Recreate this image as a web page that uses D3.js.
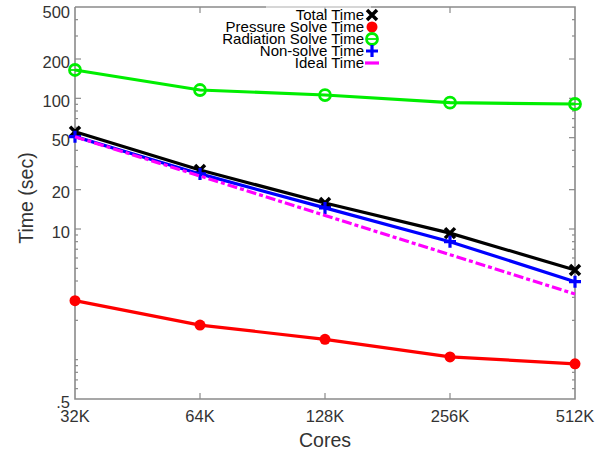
<!DOCTYPE html>
<html><head><meta charset="utf-8">
<script src="https://cdn.jsdelivr.net/npm/d3@7"></script>
<style>body{margin:0;background:#fff}svg{display:block}</style>
</head><body><svg id="c" width="606" height="455"></svg>
<script>
const cores = ["32K","64K","128K","256K","512K"];
const coreCounts = [32,64,128,256,512];
const totalTime = [55.5,28.3,15.8,9.3,4.86];
const pressureTime = [2.83,1.84,1.43,1.05,0.93];
const radiationTime = [164.8,115.8,106,92.6,90.5];
const nonSolveTime = [50.9,26.4,14.5,8.0,3.95];
const idealTime = [50.9,25.45,12.7,6.36,3.18];
const yTickValues = [0.5,10,20,50,100,200,500];
const yTickLabels = [".5","10","20","50","100","200","500"];
const seriesNames = ["Total Time","Pressure Solve Time","Radiation Solve Time","Non-solve Time","Ideal Time"];

const svg = d3.select("#c");
const L=75,R=575,T=7,B=399;
const x = d3.scaleLog().base(2).domain([32,512]).range([L,R]);
const y = d3.scaleLog().domain([0.5,500]).range([B,T]);
const axisCol="#8a8a8a", txtCol="#333";

// minor ticks
const minors=[];
[0.1,1,10,100].forEach(d=>{for(let k=1;k<10;k++){const v=d*k; if(v>0.5&&v<500) minors.push(v);}});
const g=svg.append("g");
minors.forEach(v=>{
  const isMajor=yTickValues.includes(v);
  const len=isMajor?6:3;
  g.append("line").attr("x1",L).attr("x2",L+len).attr("y1",y(v)).attr("y2",y(v)).attr("stroke",axisCol).attr("stroke-width",1.2);
  g.append("line").attr("x1",R).attr("x2",R-len).attr("y1",y(v)).attr("y2",y(v)).attr("stroke",axisCol).attr("stroke-width",1.2);
});
coreCounts.slice(1,4).forEach(c=>{
  g.append("line").attr("x1",x(c)).attr("x2",x(c)).attr("y1",B).attr("y2",B-6).attr("stroke",axisCol).attr("stroke-width",1.2);
  g.append("line").attr("x1",x(c)).attr("x2",x(c)).attr("y1",T).attr("y2",T+6).attr("stroke",axisCol).attr("stroke-width",1.2);
});
// frame
g.append("path").attr("d",`M${L},${T}V${B}H${R}V${T}H371`).attr("fill","none").attr("stroke",axisCol).attr("stroke-width",1.6);
g.append("line").attr("x1",L).attr("x2",266).attr("y1",T).attr("y2",T).attr("stroke",axisCol).attr("stroke-width",1.6);
g.append("line").attr("x1",266).attr("x2",371).attr("y1",T).attr("y2",T).attr("stroke","#c8c8c8").attr("stroke-width",1.6);

// y labels
yTickValues.forEach((v,i)=>{
  svg.append("text").attr("x",70).attr("y",y(v)+(v===500?5:3)).attr("dy","0.35em").attr("text-anchor","end")
    .attr("font-family","Liberation Sans, Arial, sans-serif").attr("font-size",16.5).attr("fill",txtCol).text(yTickLabels[i]);
});
// x labels
cores.forEach((c,i)=>{
  svg.append("text").attr("x",x(coreCounts[i])).attr("y",416).attr("dy","0.35em").attr("text-anchor","middle")
    .attr("font-family","Liberation Sans, Arial, sans-serif").attr("font-size",16.5).attr("fill",txtCol).text(c);
});
svg.append("text").attr("x",325).attr("y",440).attr("dy","0.35em").attr("text-anchor","middle")
  .attr("font-family","Liberation Sans, Arial, sans-serif").attr("font-size",19.5).attr("fill",txtCol).text("Cores");
svg.append("text").attr("transform","translate(26,198) rotate(-90)").attr("dy","0.35em").attr("text-anchor","middle")
  .attr("font-family","Liberation Sans, Arial, sans-serif").attr("font-size",19.5).attr("fill",txtCol).text("Time (sec)");

const series=[
  {name:seriesNames[0],vals:totalTime,color:"#000000",marker:"x"},
  {name:seriesNames[1],vals:pressureTime,color:"#ff0000",marker:"dot"},
  {name:seriesNames[2],vals:radiationTime,color:"#00ee00",marker:"ocirc"},
  {name:seriesNames[3],vals:nonSolveTime,color:"#0000ff",marker:"plus"},
  {name:seriesNames[4],vals:idealTime,color:"#ff00ff",marker:null,dash:"10,3,4,3"}
];
function marker(sel,type,cx,cy,color){
  if(type==="x"){
    sel.append("path").attr("d",`M${cx-5},${cy-5}L${cx+5},${cy+5}M${cx-5},${cy+5}L${cx+5},${cy-5}`).attr("stroke",color).attr("stroke-width",3.5).attr("fill","none");
  } else if(type==="dot"){
    sel.append("circle").attr("cx",cx).attr("cy",cy).attr("r",5.5).attr("fill",color);
  } else if(type==="ocirc"){
    sel.append("circle").attr("cx",cx).attr("cy",cy).attr("r",5.5).attr("fill","none").attr("stroke",color).attr("stroke-width",2.8);
    sel.append("line").attr("x1",cx-4).attr("x2",cx+4).attr("y1",cy).attr("y2",cy).attr("stroke",color).attr("stroke-width",1.8);
  } else if(type==="plus"){
    sel.append("path").attr("d",`M${cx-6},${cy}H${cx+6}M${cx},${cy-6}V${cy+6}`).attr("stroke",color).attr("stroke-width",3.2).attr("fill","none");
  }
}
const line=d3.line().x((d,i)=>x(coreCounts[i])).y(d=>y(d));
series.forEach(s=>{
  const gs=svg.append("g");
  gs.append("path").attr("d",line(s.vals)).attr("fill","none").attr("stroke",s.color).attr("stroke-width",3.2)
    .attr("stroke-dasharray",s.dash||null);
  if(s.marker) s.vals.forEach((v,i)=>marker(gs,s.marker,x(coreCounts[i]),y(v),s.color));
});

// legend
const ly=[15,27,39,51,63];
series.forEach((s,i)=>{
  svg.append("text").attr("x",364).attr("y",ly[i]).attr("dy","0.35em").attr("text-anchor","end")
    .attr("font-family","Liberation Sans, Arial, sans-serif").attr("font-size",15).attr("fill","#000").text(s.name);
  if(s.marker) marker(svg,s.marker,372,ly[i],s.color);
  else svg.append("line").attr("x1",365).attr("x2",379).attr("y1",ly[i]).attr("y2",ly[i]).attr("stroke",s.color).attr("stroke-width",3.2);
});
</script></body></html>
